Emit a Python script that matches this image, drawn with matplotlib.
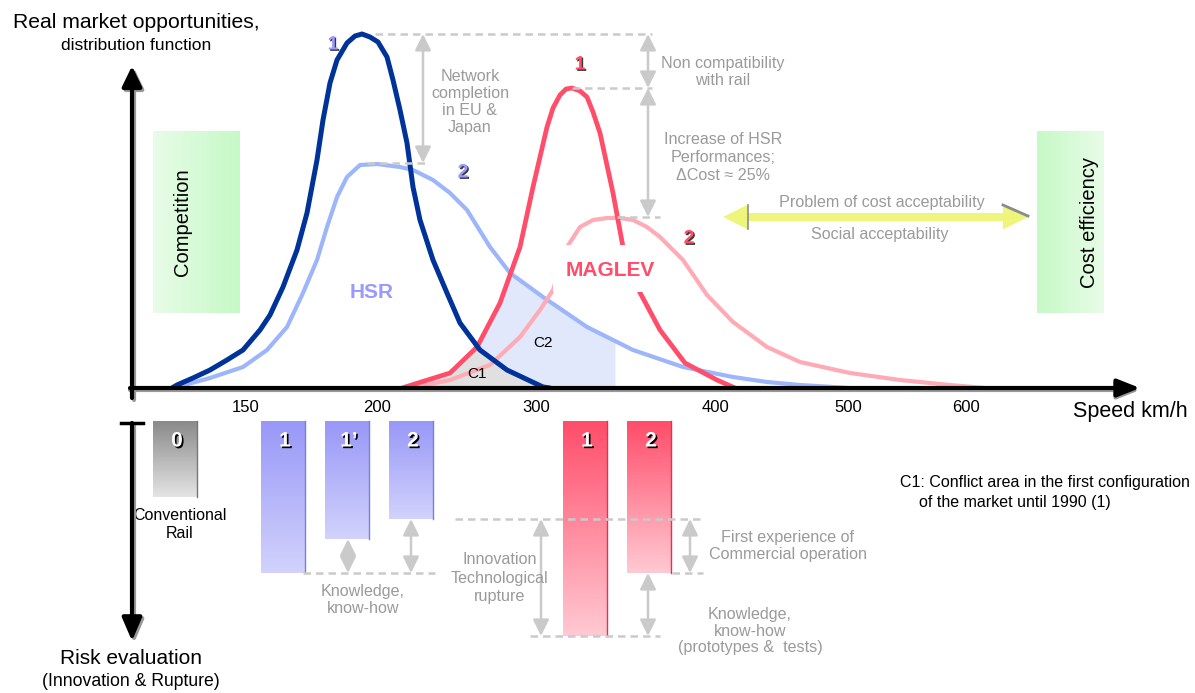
import numpy as np
import matplotlib
matplotlib.use('Agg')
import matplotlib.pyplot as plt
import matplotlib.patheffects as pe
from matplotlib.colors import LinearSegmentedColormap
from matplotlib.patches import FancyArrow, Rectangle

plt.rcParams['font.family'] = ['Liberation Sans', 'DejaVu Sans']

# market distribution curves: position along speed axis, height above baseline
hsr1_x = [172, 177, 193, 210, 227, 243, 260, 270, 283, 297, 307, 317, 323, 330, 337, 347, 355, 362,
          370, 378, 387, 393, 400, 407, 413, 420, 433, 447, 460, 480, 507, 543, 550]
hsr1_h = [0, 3, 10, 18, 28, 38, 58, 73, 101, 138, 175, 228, 268, 305, 328, 345, 352, 354,
          351, 346, 331, 308, 278, 245, 201, 168, 128, 95, 65, 38, 18, 1, 0]

hsr2_x = [172, 177, 210, 243, 267, 287, 303, 317, 327, 337, 347, 360, 377, 400, 413, 433, 450, 467,
          490, 510, 543, 587, 633, 683, 733, 767, 800, 833, 850]
hsr2_h = [0, 1, 10, 21, 38, 61, 95, 128, 161, 191, 211, 223, 224, 221, 218, 208, 195, 178,
          141, 115, 91, 61, 38, 21, 11, 6, 3, 1, 0]

mag1_x = [402, 450, 477, 500, 520, 533, 547, 553, 560, 566, 572, 580, 587, 593, 600, 613, 623, 637,
          660, 685, 717, 735]
mag1_h = [0, 15, 41, 85, 141, 201, 261, 280, 293, 299, 300, 297, 291, 276, 255, 195, 141, 101,
          58, 25, 8, 0]

mag2_x = [412, 450, 490, 520, 540, 553, 567, 580, 593, 607, 620, 633, 647, 660, 683, 707, 733, 767,
          800, 850, 900, 950, 985]
mag2_h = [0, 8, 23, 51, 78, 98, 141, 161, 168, 170, 170, 168, 161, 151, 128, 93, 66, 41,
          26, 15, 8, 3, 0]

tick_labels = ['150', '200', '300', '400', '500', '600']
tick_pos = [246, 377, 536, 716, 848, 966]

# risk bars
bar_labels = ['0', '1', '1\u2019', '2', '1', '2']
bar_left = [153, 261, 325, 389, 563, 627]
bar_risk = [76, 152, 118, 98, 215, 152]
bar_kind = ['rail', 'hsr', 'hsr', 'hsr', 'mag', 'mag']

BASE = 388
BAR_TOP = 421
GREY = '#9a9a9a'
LGREY = '#cacaca'


def Y(p):
    return BASE - p


fig = plt.figure(figsize=(11.95, 6.93), dpi=100)
ax = fig.add_axes([0, 0, 1, 1])
ax.axis('off')


def grad(x0, x1, p0, p1, c0, c1, horizontal=False, z=1):
    cm = LinearSegmentedColormap.from_list('g', [c0, c1])
    arr = np.linspace(0, 1, 128)
    arr = arr[None, :] if horizontal else arr[:, None]
    ax.imshow(arr, cmap=cm, extent=(x0, x1, Y(p1), Y(p0)), aspect='auto',
              origin='upper', zorder=z, interpolation='bilinear')


# green boxes
grad(153, 240, 131, 313, '#e8fce8', '#c6f9c6', horizontal=True)
grad(1037, 1104, 131, 313, '#c6f9c6', '#e8fce8', horizontal=True)
ax.text(183, Y(222), 'Competition', rotation=90, ha='center', va='center', fontsize=14.5)
ax.text(1090, Y(222), 'Cost efficiency', rotation=90, ha='center', va='center', fontsize=14.5)

# conflict areas
xx = np.arange(mag1_x[0], 616)
ax.fill_between(xx, 0, np.minimum(np.interp(xx, mag1_x, mag1_h), np.interp(xx, hsr2_x, hsr2_h)),
                color='#e1e8fb', lw=0, zorder=2)
xx1 = np.arange(mag1_x[0], hsr1_x[-1] + 1)
ax.fill_between(xx1, 0, np.minimum(np.interp(xx1, mag1_x, mag1_h), np.interp(xx1, hsr1_x, hsr1_h)),
                color='#e0e0e0', lw=0, zorder=2)

kw = dict(solid_capstyle='round', solid_joinstyle='round', zorder=3)
ax.plot(hsr2_x, hsr2_h, color='#9db6fb', lw=3.0, **kw)
ax.plot(mag2_x, mag2_h, color='#ffabb6', lw=3.0, **kw)
ax.plot(mag1_x, mag1_h, color='#ff4d6a', lw=3.4, **kw)
ax.plot(hsr1_x, hsr1_h, color='#00339a', lw=3.6, **kw)

ax.add_patch(Rectangle((553, Y(292)), 107, 47, facecolor='white', edgecolor='none', zorder=4))
ax.text(372, Y(292), 'HSR', color='#9999ff', fontsize=15, fontweight='bold', ha='center', va='center', zorder=5)
ax.text(610, Y(270), 'MAGLEV', color='#ff4d6a', fontsize=15, fontweight='bold', ha='center', va='center', zorder=5)
ax.text(543, Y(343), 'C2', fontsize=11, ha='center', va='center', zorder=5)
ax.text(477, Y(374), 'C1', fontsize=11, ha='center', va='center', zorder=5)

shadow = [pe.withSimplePatchShadow(offset=(1, -1), shadow_rgbFace='#222222', alpha=0.9)]
for x, y, s, c in [(333, 45, '1', '#9999ff'), (463, 173, '2', '#9999ff'),
                   (580, 65, '1', '#ff4d6a'), (689, 239, '2', '#ff4d6a')]:
    ax.text(x, Y(y), s, color=c, fontsize=14, fontweight='bold', ha='center', va='center',
            path_effects=shadow, zorder=5)

# dashed guides and grey arrows (upper)
dash = dict(color=LGREY, lw=1.8, ls=(0, (3, 2)), zorder=4)


def hdash(x0, x1, p):
    ax.plot([x0, x1], [Y(p), Y(p)], **dash)


def garrow(x, p0, p1):
    ax.annotate('', xy=(x, Y(p1)), xytext=(x, Y(p0)),
                arrowprops=dict(arrowstyle='<|-|>,head_length=0.65,head_width=0.32',
                                color=LGREY, lw=1.8, mutation_scale=15, shrinkA=0, shrinkB=0), zorder=4)


hdash(375, 652, 34)
hdash(367, 425, 163)
hdash(572, 652, 88)
hdash(617, 660, 217)
garrow(423, 34, 163)
garrow(648, 34, 88)
garrow(648, 88, 217)

tkw = dict(color=GREY, fontsize=11.6, ha='center', va='center', zorder=6)
ax.text(470, Y(102), 'Network\ncompletion\nin EU &\nJapan', linespacing=1.15, **tkw)
ax.text(723, Y(72), 'Non compatibility\nwith rail', linespacing=1.15, **tkw)
ax.text(723, Y(157), 'Increase of HSR\nPerformances;\n\u0394Cost \u2248 25%', linespacing=1.25, **tkw)

# cost acceptability arrow
ax.add_patch(FancyArrow(876, Y(217), -153, 0, width=8, head_width=25, head_length=25,
                        length_includes_head=True, color='#eef57a', lw=0, zorder=3))
ax.add_patch(FancyArrow(875, Y(217), 153, 0, width=8, head_width=25, head_length=25,
                        length_includes_head=True, color='#eef57a', lw=0, zorder=3))
ax.plot([748, 748], [Y(205), Y(229)], color='#8c8c8c', lw=1.2, zorder=4)
ax.plot([1003, 1028], [Y(205), Y(216)], color='#8c8c8c', lw=2, zorder=4)
ax.text(882, Y(203), 'Problem of cost acceptability', **tkw)
ax.text(880, Y(234), 'Social acceptability', **tkw)


# main axes
def axarrow(x0, y0, x1, y1, hl, hw, col, z):
    ax.annotate('', xy=(x1, y1), xytext=(x0, y0),
                arrowprops=dict(arrowstyle='-|>,head_length=%s,head_width=%s' % (hl, hw),
                                color=col, lw=3.0, mutation_scale=20, shrinkA=0, shrinkB=0), zorder=z)


axarrow(134, Y(398) - 2, 134, Y(66) - 2, 0.62, 0.3, '#999999', 6)
axarrow(132, Y(398), 132, Y(66), 0.62, 0.3, 'black', 7)
axarrow(130, -2, 1140, -2, 0.68, 0.27, '#999999', 6)
axarrow(130, 0, 1140, 0, 0.68, 0.27, 'black', 7)
axarrow(134, Y(423) - 2, 134, Y(641) - 2, 0.7, 0.3, '#999999', 6)
axarrow(132, Y(423), 132, Y(641), 0.7, 0.3, 'black', 7)
ax.plot([121, 143], [Y(423), Y(423)], color='black', lw=2.5, zorder=7)

for t, x in zip(tick_labels, tick_pos):
    ax.text(x, Y(408), t, fontsize=12, ha='center', va='center')
ax.text(1130, Y(411), 'Speed km/h', fontsize=15.5, ha='center', va='center')
ax.text(136, Y(23), 'Real market opportunities,', fontsize=15.2, ha='center', va='center')
ax.text(136, Y(46), 'distribution function', fontsize=12.5, ha='center', va='center')
ax.text(131, Y(659), 'Risk evaluation', fontsize=15, ha='center', va='center')
ax.text(131, Y(682), '(Innovation & Rupture)', fontsize=12.7, ha='center', va='center')

# risk bars
colors = {'rail': ('#8a8a8a', '#e4e4e4', '#777777'),
          'hsr': ('#9898f8', '#d2d2fc', '#7c7ce6'),
          'mag': ('#ff4d6a', '#ffc9d3', '#e8304e')}
bar_w = 44
white_sh = [pe.withSimplePatchShadow(offset=(1.2, -1.2), shadow_rgbFace='black', alpha=1)]
for lab, x0, r, k in zip(bar_labels, bar_left, bar_risk, bar_kind):
    ctop, cbot, cedge = colors[k]
    grad(x0, x0 + bar_w, BAR_TOP, BAR_TOP + r, ctop, cbot, z=3)
    ax.plot([x0 + bar_w, x0 + bar_w], [Y(BAR_TOP), Y(BAR_TOP + r)], color=cedge, lw=1, zorder=4)
    ax.text(x0 + bar_w / 2 + 2, Y(441), lab, color='white', fontsize=15, fontweight='bold',
            ha='center', va='center', path_effects=white_sh, zorder=5)

ax.text(180, Y(525), 'Conventional\nRail', fontsize=11.5, ha='center', va='center', linespacing=1.25)

hdash(303, 435, 573)
hdash(455, 700, 519)
hdash(530, 660, 636)
hdash(672, 703, 573)
garrow(348, 539, 573)
garrow(411, 519, 573)
garrow(541, 519, 636)
garrow(690, 519, 573)
garrow(648, 573, 636)

ax.text(363, Y(600), 'Knowledge,\nknow-how', linespacing=1.1, **tkw)
ax.text(500, Y(578), 'Innovation\nTechnological\nrupture', linespacing=1.25, **tkw)
ax.text(788, Y(546), 'First experience of\nCommercial operation', linespacing=1.1, **tkw)
ax.text(750, Y(631), 'Knowledge,\nknow-how\n(prototypes &  tests)', linespacing=1.15, **tkw)

nkw = dict(fontsize=11.5, ha='left', va='center')
ax.text(900, Y(482), 'C1: Conflict area in the first configuration', **nkw)
ax.text(919, Y(502), 'of the market until 1990 (1)', **nkw)

ax.set_xlim(0, 1195)
ax.set_ylim(BASE - 693, BASE)
fig.savefig('out.png', dpi=100)
